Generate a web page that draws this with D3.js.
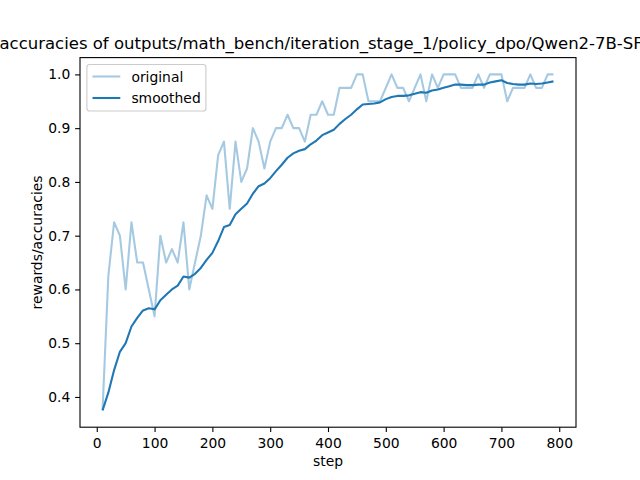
<!DOCTYPE html>
<html>
<head>
<meta charset="utf-8">
<script src="https://cdn.jsdelivr.net/npm/d3@7"></script>
<style>
  body { margin: 0; background: #fff; }
  svg { display: block; font-family: "DejaVu Sans", sans-serif; }
</style>
</head>
<body>
<svg id="chart" width="640" height="480"></svg>
<script>
// step values on the x axis
var steps = [10, 20, 30, 40, 50, 60, 70, 80, 90, 100,
    110, 120, 130, 140, 150, 160, 170, 180, 190, 200,
    210, 220, 230, 240, 250, 260, 270, 280, 290, 300,
    310, 320, 330, 340, 350, 360, 370, 380, 390, 400,
    410, 420, 430, 440, 450, 460, 470, 480, 490, 500,
    510, 520, 530, 540, 550, 560, 570, 580, 590, 600,
    610, 620, 630, 640, 650, 660, 670, 680, 690, 700,
    710, 720, 730, 740, 750, 760, 770, 780, 790];

var original = [0.375, 0.625, 0.725, 0.70, 0.60, 0.725, 0.65, 0.65, 0.60, 0.55,
    0.70, 0.65, 0.675, 0.65, 0.725, 0.60, 0.65, 0.70, 0.775, 0.75,
    0.85, 0.875, 0.75, 0.875, 0.80, 0.825, 0.90, 0.875, 0.825, 0.875,
    0.90, 0.90, 0.925, 0.90, 0.90, 0.875, 0.925, 0.925, 0.95, 0.925,
    0.925, 0.975, 0.975, 0.975, 1.0, 1.0, 0.95, 0.95, 0.95, 0.975,
    1.0, 0.975, 0.975, 0.95, 0.975, 1.0, 0.95, 1.0, 0.975, 1.0,
    1.0, 1.0, 0.975, 0.975, 0.975, 1.0, 0.975, 1.0, 1.0, 1.0,
    0.95, 0.975, 0.975, 0.975, 1.0, 0.975, 0.975, 1.0, 1.0];

var smoothed = [0.375, 0.408, 0.45, 0.484, 0.50, 0.531, 0.547, 0.561, 0.565, 0.563,
    0.58, 0.59, 0.60, 0.607, 0.624, 0.622, 0.629, 0.64, 0.655, 0.668,
    0.69, 0.716, 0.72, 0.74, 0.75, 0.76, 0.778, 0.792, 0.797, 0.807,
    0.82, 0.832, 0.845, 0.853, 0.858, 0.861, 0.87, 0.877, 0.887, 0.892,
    0.897, 0.908, 0.917, 0.925, 0.935, 0.944, 0.945, 0.946, 0.948, 0.954,
    0.958, 0.96, 0.96, 0.961, 0.964, 0.967, 0.966, 0.97, 0.972, 0.975,
    0.978, 0.981, 0.981, 0.98, 0.98, 0.981, 0.981, 0.985, 0.987, 0.989,
    0.984, 0.982, 0.981, 0.981, 0.983, 0.982, 0.983, 0.985, 0.987];

var xTicks = [0, 100, 200, 300, 400, 500, 600, 700, 800];
var yTicks = [0.4, 0.5, 0.6, 0.7, 0.8, 0.9, 1.0];
var seriesNames = ["original", "smoothed"];

var titlePrefix = "rewards/";
var titleRest = "accuracies of outputs/math_bench/iteration_stage_1/policy_dpo/Qwen2-7B-SFT";

var blue = "#1f77b4";
// plot box (named so they do not clash with window.top)
var plotL = 80, plotR = 576, plotT = 57.6, plotB = 427.2;
var fs = 13.89;   // 10pt at 100 dpi

var svg = d3.select("#chart");

var x = d3.scaleLinear().domain([-29, 829]).range([plotL, plotR]);
var y = d3.scaleLinear().domain([0.34375, 1.03125]).range([plotB, plotT]);

var rows = steps.map(function (s, i) {
    return {step: s, original: original[i], smoothed: smoothed[i]};
});

// lines
var lineOrig = d3.line().x(function (d) { return x(d.step); }).y(function (d) { return y(d.original); });
var lineSmooth = d3.line().x(function (d) { return x(d.step); }).y(function (d) { return y(d.smoothed); });

svg.append("path")
    .datum(rows)
    .attr("d", lineOrig)
    .attr("fill", "none")
    .attr("stroke", blue)
    .attr("stroke-opacity", 0.4)
    .attr("stroke-width", 2.08)
    .attr("stroke-linejoin", "round");

svg.append("path")
    .datum(rows)
    .attr("d", lineSmooth)
    .attr("fill", "none")
    .attr("stroke", blue)
    .attr("stroke-width", 2.08)
    .attr("stroke-linejoin", "round");

// axes
var xAxis = svg.append("g")
    .attr("transform", "translate(0," + plotB + ")")
    .call(d3.axisBottom(x).tickValues(xTicks).tickSize(4.86).tickPadding(6.5).tickFormat(d3.format("d")));

var yAxis = svg.append("g")
    .attr("transform", "translate(" + plotL + ",0)")
    .call(d3.axisLeft(y).tickValues(yTicks).tickSize(4.86).tickPadding(4.86).tickFormat(d3.format(".1f")));

[xAxis, yAxis].forEach(function (g) {
    g.select(".domain").remove();
    g.selectAll(".tick line").attr("stroke", "#000").attr("stroke-width", 1.1);
    g.selectAll(".tick text")
        .attr("fill", "#000")
        .style("font-family", "DejaVu Sans")
        .style("font-size", fs + "px");
});

// frame
svg.append("rect")
    .attr("x", plotL)
    .attr("y", plotT)
    .attr("width", plotR - plotL)
    .attr("height", plotB - plotT)
    .attr("fill", "none")
    .attr("stroke", "#000")
    .attr("stroke-width", 1.1);

// axis labels
svg.append("text")
    .attr("x", (plotL + plotR) / 2)
    .attr("y", 466)
    .attr("text-anchor", "middle")
    .style("font-size", fs + "px")
    .text("step");

svg.append("text")
    .attr("transform", "translate(42," + (plotT + plotB) / 2 + ") rotate(-90)")
    .attr("text-anchor", "middle")
    .style("font-size", fs + "px")
    .text("rewards/accuracies");

// title, overflowing the window on both sides
var title = svg.append("text")
    .attr("x", 0)
    .attr("y", 49)
    .style("font-size", "16.5px");
var pre = title.append("tspan").text(titlePrefix);
title.append("tspan").text(titleRest);
title.attr("x", -pre.node().getComputedTextLength() - 0.5);

// legend
var legend = svg.append("g");
legend.append("rect")
    .attr("x", 86.9)
    .attr("y", 64.5)
    .attr("width", 119)
    .attr("height", 46.5)
    .attr("rx", 2.8)
    .attr("fill", "#fff")
    .attr("fill-opacity", 0.8)
    .attr("stroke", "#cccccc")
    .attr("stroke-width", 1.1);

var item = legend.selectAll(".item")
    .data(seriesNames)
    .enter()
    .append("g")
    .attr("class", "item")
    .attr("transform", function (d, i) { return "translate(0," + (76.5 + i * 21.5) + ")"; });

item.append("line")
    .attr("x1", 92.5)
    .attr("x2", 120.3)
    .attr("stroke", blue)
    .attr("stroke-opacity", function (d, i) { return i == 0 ? 0.4 : 1; })
    .attr("stroke-width", 2.08);

item.append("text")
    .attr("x", 131.4)
    .attr("dy", "0.36em")
    .style("font-size", fs + "px")
    .text(function (d) { return d; });
</script>
</body>
</html>
